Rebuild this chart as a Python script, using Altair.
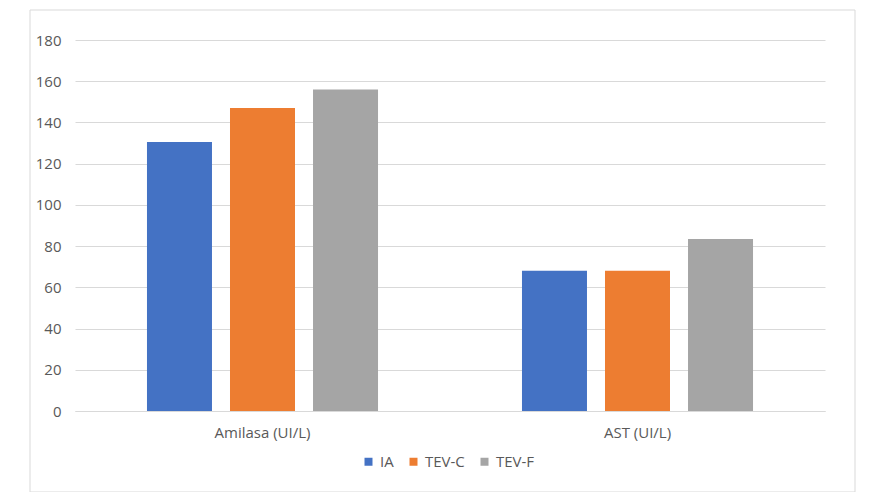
import altair as alt
import pandas as pd

categories = ["Amilasa (UI/L)", "AST (UI/L)"]
series = ["IA", "TEV-C", "TEV-F"]
values_ia = [130.5, 68]
values_tevc = [147, 68]
values_tevf = [156, 83.5]
colors = ["#4472C4", "#ED7D31", "#A5A5A5"]

rows = []
for s, vals in zip(series, [values_ia, values_tevc, values_tevf]):
    for c, v in zip(categories, vals):
        rows.append({"cat": c, "serie": s, "valor": v})
df = pd.DataFrame(rows)

FONT = "Open Sans"

bars = alt.Chart(df).mark_bar(strokeWidth=0).encode(
    x=alt.X("cat:N", sort=categories, title=None,
            scale=alt.Scale(paddingInner=0, paddingOuter=0),
            axis=alt.Axis(labelAngle=0, labelFontSize=15, labelColor="#595959",
                          labelFont=FONT, ticks=False, domain=True,
                          domainColor="#d9d9d9", labelPadding=14, grid=False)),
    xOffset=alt.XOffset("serie:N", sort=series,
                        scale=alt.Scale(paddingInner=0.217, paddingOuter=0.867)),
    y=alt.Y("valor:Q", title=None,
            scale=alt.Scale(domain=[0, 180], nice=False),
            axis=alt.Axis(values=list(range(0, 181, 20)), labelFontSize=15,
                          labelColor="#595959", labelFont=FONT, ticks=False,
                          domain=False, gridColor="#d9d9d9", labelPadding=14)),
    color=alt.Color("serie:N", sort=series,
                    scale=alt.Scale(domain=series, range=colors),
                    legend=alt.Legend(title=None, orient="none", direction="horizontal",
                                      legendX=286, legendY=414, symbolType="square",
                                      symbolSize=64, labelFontSize=15, labelFont=FONT,
                                      labelColor="#595959", columnPadding=12,
                                      labelOffset=4, symbolStrokeWidth=0)),
)

border = alt.Chart(pd.DataFrame({"a": [0]})).mark_rect(
    fill="transparent", stroke="#d9d9d9", strokeWidth=1
).encode(
    x=alt.value(-45), x2=alt.value(780), y=alt.value(-30), y2=alt.value(452)
)

chart = alt.layer(border, bars).properties(
    width=750, height=371,
    autosize=alt.AutoSizeParams(type="none"),
    padding={"left": 67, "top": 32, "right": 42, "bottom": 81},
).configure(
    background="white",
    view=alt.ViewConfig(stroke="transparent", strokeWidth=0),
)

chart.save("out.html", embed_options={"renderer": "svg", "actions": False})
